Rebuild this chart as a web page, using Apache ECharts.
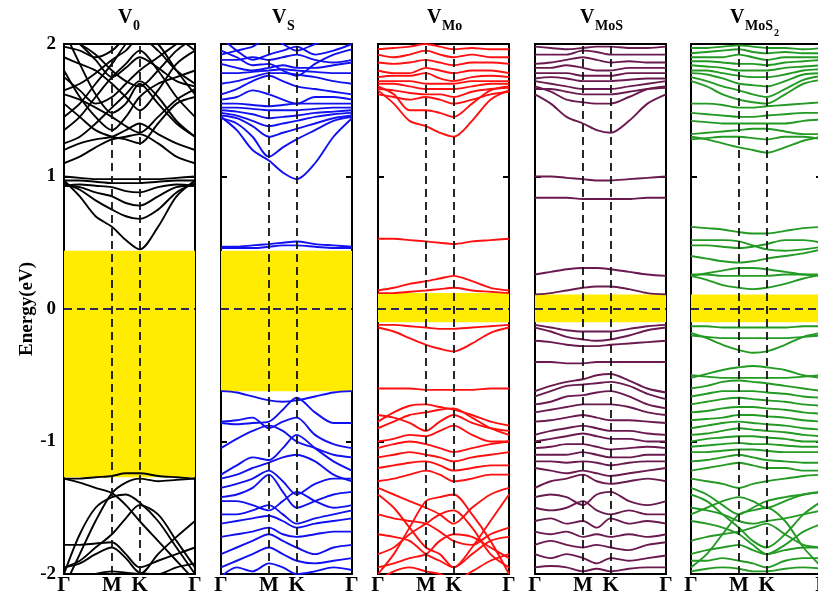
<!DOCTYPE html>
<html>
<head>
<meta charset="utf-8">
<script src="https://cdn.jsdelivr.net/npm/echarts@6/dist/echarts.min.js"></script>
<style>
  html, body { margin: 0; padding: 0; background: #fff; }
  #chart { width: 818px; height: 594px; }
</style>
</head>
<body>
<div id="chart"></div>
<script>
// k-path Γ–M–K–Γ (path length units), sampled positions for each band
const kPath = [0, 0.19, 0.38, 0.577, 0.744, 0.910, 1.132, 1.354, 1.577];
const kTickValues = [0, 0.577, 0.910, 1.577];
const kTickLabels = ['Γ', 'M', 'K', 'Γ'];
const energyTicks = [-2, -1, 0, 1, 2];

const panelNames = ['0', 'S', 'Mo', 'MoS', 'MoS2'];
const panelColors = ['#000000', '#1010f0', '#ff1010', '#6a1a4e', '#239a23'];

// band gap windows (eV) shaded in each panel
const gapLow  = [-1.27, -0.62, -0.10, -0.10, -0.10];
const gapHigh = [0.44, 0.44, 0.12, 0.11, 0.11];

// band energies (eV) at the kPath samples
const bandsV0 = [
  [-1.28, -1.28, -1.27, -1.26, -1.24, -1.24, -1.26, -1.27, -1.28],
  [-1.28, -1.31, -1.35, -1.39, -1.48, -1.60, -1.75, -1.90, -2.05],
  [-2.10, -1.85, -1.60, -1.39, -1.31, -1.28, -1.30, -1.29, -1.28],
  [-2.00, -1.70, -1.50, -1.42, -1.40, -1.46, -1.60, -1.80, -2.00],
  [-1.95, -1.90, -1.80, -1.70, -1.58, -1.48, -1.55, -1.75, -1.95],
  [-1.78, -1.78, -1.77, -1.76, -1.85, -1.95, -1.90, -1.85, -1.80],
  [-1.95, -1.92, -1.85, -1.80, -1.88, -1.99, -2.00, -1.95, -1.92],
  [-2.10, -2.05, -2.00, -1.98, -1.99, -2.00, -1.85, -1.72, -1.60],
  [0.97, 0.85, 0.70, 0.62, 0.52, 0.45, 0.62, 0.85, 0.97],
  [0.95, 0.90, 0.82, 0.75, 0.70, 0.68, 0.75, 0.88, 0.95],
  [0.93, 0.92, 0.88, 0.85, 0.80, 0.78, 0.85, 0.92, 0.93],
  [0.93, 0.94, 0.93, 0.92, 0.89, 0.88, 0.92, 0.94, 0.93],
  [0.97, 0.97, 0.96, 0.95, 0.95, 0.95, 0.96, 0.97, 0.97],
  [1.00, 0.99, 0.98, 0.98, 0.98, 0.98, 0.98, 0.99, 1.00],
  [1.10, 1.15, 1.22, 1.28, 1.30, 1.32, 1.25, 1.15, 1.10],
  [1.20, 1.25, 1.28, 1.30, 1.35, 1.40, 1.32, 1.25, 1.20],
  [1.55, 1.45, 1.35, 1.30, 1.28, 1.25, 1.40, 1.55, 1.60],
  [1.80, 1.60, 1.45, 1.35, 1.45, 1.60, 1.70, 1.75, 1.80],
  [2.10, 1.85, 1.62, 1.48, 1.55, 1.70, 1.55, 1.40, 1.30],
  [1.35, 1.45, 1.60, 1.75, 1.85, 1.95, 1.80, 1.60, 1.45],
  [1.65, 1.70, 1.78, 1.88, 1.95, 2.05, 1.95, 1.80, 1.70],
  [1.90, 1.85, 1.80, 1.70, 1.60, 1.50, 1.65, 1.85, 1.95],
  [1.45, 1.55, 1.70, 1.85, 2.00, 2.10, 2.00, 1.80, 1.62],
  [2.05, 2.00, 1.92, 1.80, 1.72, 1.68, 1.80, 1.95, 2.05],
  [1.75, 1.65, 1.55, 1.60, 1.70, 1.80, 1.90, 2.00, 2.10],
  [1.98, 1.95, 1.90, 1.95, 2.05, 2.10, 2.10, 2.05, 1.95],
  [1.25, 1.30, 1.40, 1.52, 1.62, 1.72, 1.60, 1.42, 1.30],
  [1.62, 1.58, 1.52, 1.45, 1.38, 1.33, 1.45, 1.58, 1.66],
  [2.10, 2.00, 1.88, 1.75, 1.82, 1.90, 1.82, 1.72, 1.68]
];

const bandsVS = [
  [0.47, 0.47, 0.48, 0.49, 0.50, 0.51, 0.49, 0.48, 0.47],
  [0.46, 0.46, 0.46, 0.47, 0.48, 0.48, 0.47, 0.46, 0.46],
  [-0.62, -0.63, -0.66, -0.69, -0.70, -0.69, -0.66, -0.63, -0.62],
  [-0.86, -0.87, -0.86, -0.85, -0.76, -0.67, -0.78, -0.86, -0.86],
  [-0.85, -0.84, -0.82, -0.90, -0.85, -0.82, -0.95, -1.02, -1.05],
  [-1.05, -0.98, -0.92, -0.88, -0.92, -1.00, -1.05, -1.10, -1.12],
  [-1.25, -1.18, -1.12, -1.14, -1.05, -0.95, -1.05, -1.15, -1.22],
  [-1.28, -1.25, -1.20, -1.16, -1.12, -1.10, -1.15, -1.25, -1.30],
  [-1.35, -1.32, -1.28, -1.22, -1.30, -1.40, -1.32, -1.28, -1.28],
  [-1.42, -1.40, -1.35, -1.25, -1.38, -1.50, -1.45, -1.40, -1.38],
  [-1.45, -1.45, -1.48, -1.52, -1.45, -1.38, -1.45, -1.50, -1.48],
  [-1.55, -1.55, -1.52, -1.48, -1.55, -1.62, -1.58, -1.55, -1.52],
  [-1.62, -1.60, -1.58, -1.56, -1.60, -1.65, -1.62, -1.60, -1.58],
  [-1.72, -1.70, -1.68, -1.65, -1.70, -1.72, -1.70, -1.68, -1.68],
  [-1.85, -1.80, -1.75, -1.70, -1.75, -1.80, -1.85, -1.80, -1.78],
  [-1.95, -1.90, -1.85, -1.80, -1.85, -1.90, -1.92, -1.90, -1.88],
  [-2.02, -1.95, -1.98, -1.92, -1.95, -2.00, -1.98, -1.95, -1.97],
  [1.45, 1.35, 1.20, 1.12, 1.03, 0.98, 1.10, 1.30, 1.44],
  [1.44, 1.40, 1.30, 1.15, 1.22, 1.28, 1.35, 1.42, 1.45],
  [1.46, 1.44, 1.38, 1.30, 1.33, 1.36, 1.40, 1.44, 1.46],
  [1.48, 1.46, 1.42, 1.38, 1.40, 1.42, 1.45, 1.47, 1.48],
  [1.50, 1.49, 1.47, 1.44, 1.45, 1.46, 1.48, 1.49, 1.50],
  [1.52, 1.52, 1.51, 1.50, 1.50, 1.50, 1.51, 1.52, 1.52],
  [1.55, 1.55, 1.54, 1.53, 1.54, 1.55, 1.55, 1.55, 1.55],
  [1.58, 1.60, 1.65, 1.62, 1.58, 1.55, 1.60, 1.60, 1.58],
  [1.62, 1.66, 1.72, 1.76, 1.72, 1.68, 1.66, 1.64, 1.62],
  [1.70, 1.72, 1.75, 1.78, 1.78, 1.77, 1.75, 1.72, 1.70],
  [1.78, 1.78, 1.79, 1.80, 1.81, 1.80, 1.79, 1.78, 1.78],
  [1.85, 1.82, 1.80, 1.82, 1.84, 1.82, 1.82, 1.84, 1.86],
  [1.95, 1.90, 1.84, 1.85, 1.80, 1.76, 1.85, 1.92, 1.96],
  [2.05, 1.95, 1.88, 1.92, 1.95, 1.98, 1.92, 1.95, 2.00],
  [1.92, 1.95, 1.98, 2.05, 2.00, 1.95, 2.00, 2.05, 2.10],
  [1.88, 1.88, 1.90, 1.88, 1.90, 1.92, 1.88, 1.86, 1.88]
];

const bandsVMo = [
  [0.53, 0.53, 0.52, 0.51, 0.50, 0.49, 0.51, 0.52, 0.53],
  [0.14, 0.16, 0.19, 0.21, 0.23, 0.25, 0.21, 0.16, 0.14],
  [0.12, 0.12, 0.13, 0.14, 0.15, 0.16, 0.14, 0.13, 0.12],
  [-0.12, -0.12, -0.13, -0.14, -0.15, -0.15, -0.14, -0.13, -0.12],
  [-0.14, -0.17, -0.22, -0.27, -0.30, -0.32, -0.26, -0.18, -0.14],
  [-0.60, -0.60, -0.60, -0.61, -0.61, -0.61, -0.61, -0.60, -0.60],
  [-0.85, -0.78, -0.73, -0.72, -0.74, -0.76, -0.80, -0.85, -0.88],
  [-0.90, -0.85, -0.80, -0.78, -0.76, -0.75, -0.82, -0.90, -0.95],
  [-0.80, -0.82, -0.86, -0.92, -0.85, -0.80, -0.86, -0.90, -0.92],
  [-1.00, -0.98, -0.95, -0.96, -0.92, -0.88, -0.95, -1.00, -1.00],
  [-1.05, -1.02, -1.00, -1.02, -1.05, -1.08, -1.05, -1.02, -1.00],
  [-1.12, -1.10, -1.08, -1.10, -1.12, -1.15, -1.12, -1.10, -1.08],
  [-1.20, -1.18, -1.16, -1.15, -1.18, -1.22, -1.20, -1.18, -1.18],
  [-1.30, -1.28, -1.25, -1.22, -1.25, -1.30, -1.28, -1.25, -1.25],
  [-1.40, -1.50, -1.65, -1.80, -1.85, -1.95, -1.80, -1.60, -1.40],
  [-1.35, -1.40, -1.45, -1.50, -1.55, -1.62, -1.50, -1.40, -1.35],
  [-2.00, -1.85, -1.65, -1.45, -1.42, -1.40, -1.55, -1.75, -2.00],
  [-1.55, -1.58, -1.60, -1.62, -1.68, -1.75, -1.78, -1.70, -1.65],
  [-1.85, -1.80, -1.70, -1.62, -1.55, -1.52, -1.65, -1.85, -1.95],
  [-1.70, -1.72, -1.75, -1.85, -1.90, -1.95, -1.85, -1.75, -1.72],
  [-1.95, -1.92, -1.88, -1.85, -1.75, -1.70, -1.72, -1.80, -1.88],
  [-2.05, -1.98, -1.95, -1.98, -2.00, -2.05, -1.98, -1.90, -1.85],
  [1.65, 1.55, 1.42, 1.38, 1.33, 1.30, 1.42, 1.58, 1.65],
  [1.68, 1.62, 1.50, 1.50, 1.48, 1.45, 1.55, 1.65, 1.68],
  [1.62, 1.60, 1.58, 1.60, 1.58, 1.55, 1.58, 1.62, 1.64],
  [1.66, 1.65, 1.63, 1.62, 1.62, 1.60, 1.64, 1.66, 1.67],
  [1.70, 1.70, 1.68, 1.66, 1.66, 1.66, 1.68, 1.70, 1.70],
  [1.72, 1.72, 1.72, 1.70, 1.70, 1.70, 1.72, 1.72, 1.72],
  [1.75, 1.76, 1.76, 1.78, 1.74, 1.72, 1.75, 1.76, 1.75],
  [1.80, 1.78, 1.78, 1.82, 1.80, 1.78, 1.80, 1.80, 1.78],
  [1.86, 1.85, 1.86, 1.88, 1.86, 1.84, 1.86, 1.86, 1.85],
  [1.92, 1.90, 1.92, 1.95, 1.92, 1.90, 1.92, 1.90, 1.90],
  [1.96, 1.97, 1.98, 2.00, 1.98, 1.96, 1.97, 1.96, 1.96]
];

const bandsVMoS = [
  [1.00, 1.00, 0.99, 0.98, 0.97, 0.97, 0.98, 0.99, 1.00],
  [0.84, 0.84, 0.84, 0.83, 0.83, 0.83, 0.83, 0.84, 0.84],
  [0.26, 0.28, 0.30, 0.31, 0.31, 0.30, 0.28, 0.26, 0.25],
  [0.11, 0.12, 0.14, 0.16, 0.17, 0.17, 0.15, 0.12, 0.11],
  [-0.12, -0.14, -0.16, -0.17, -0.17, -0.17, -0.15, -0.13, -0.12],
  [-0.14, -0.17, -0.21, -0.23, -0.24, -0.23, -0.20, -0.16, -0.14],
  [-0.24, -0.25, -0.27, -0.28, -0.28, -0.27, -0.26, -0.25, -0.24],
  [-0.40, -0.40, -0.41, -0.41, -0.40, -0.40, -0.40, -0.40, -0.40],
  [-0.62, -0.58, -0.55, -0.53, -0.50, -0.49, -0.54, -0.60, -0.63],
  [-0.66, -0.62, -0.58, -0.57, -0.56, -0.55, -0.58, -0.64, -0.68],
  [-0.72, -0.70, -0.66, -0.65, -0.63, -0.62, -0.66, -0.72, -0.75],
  [-0.78, -0.76, -0.74, -0.72, -0.72, -0.72, -0.74, -0.78, -0.80],
  [-0.85, -0.84, -0.82, -0.80, -0.82, -0.84, -0.84, -0.85, -0.86],
  [-0.95, -0.92, -0.90, -0.88, -0.90, -0.92, -0.92, -0.94, -0.95],
  [-1.00, -0.98, -0.96, -0.94, -0.96, -0.98, -0.98, -1.00, -1.00],
  [-1.05, -1.04, -1.02, -1.02, -1.04, -1.06, -1.05, -1.04, -1.05],
  [-1.10, -1.10, -1.10, -1.08, -1.10, -1.12, -1.12, -1.10, -1.10],
  [-1.15, -1.15, -1.16, -1.15, -1.16, -1.18, -1.16, -1.15, -1.15],
  [-1.20, -1.22, -1.24, -1.22, -1.24, -1.26, -1.24, -1.22, -1.20],
  [-1.35, -1.30, -1.28, -1.25, -1.30, -1.32, -1.30, -1.28, -1.30],
  [-1.42, -1.40, -1.42, -1.48, -1.40, -1.38, -1.45, -1.48, -1.45],
  [-1.50, -1.52, -1.50, -1.45, -1.52, -1.55, -1.52, -1.55, -1.55],
  [-1.60, -1.58, -1.62, -1.60, -1.65, -1.58, -1.62, -1.60, -1.62],
  [-1.68, -1.70, -1.68, -1.72, -1.70, -1.72, -1.70, -1.72, -1.70],
  [-1.78, -1.75, -1.78, -1.80, -1.78, -1.80, -1.82, -1.78, -1.76],
  [-1.85, -1.88, -1.85, -1.88, -1.92, -1.88, -1.90, -1.88, -1.86],
  [-1.95, -1.94, -1.95, -1.98, -1.96, -1.98, -1.96, -1.95, -1.95],
  [1.62, 1.55, 1.45, 1.40, 1.35, 1.33, 1.42, 1.55, 1.62],
  [1.68, 1.64, 1.58, 1.56, 1.55, 1.55, 1.60, 1.66, 1.68],
  [1.66, 1.66, 1.64, 1.62, 1.62, 1.62, 1.64, 1.66, 1.67],
  [1.72, 1.70, 1.68, 1.66, 1.66, 1.66, 1.68, 1.70, 1.72],
  [1.74, 1.75, 1.74, 1.72, 1.72, 1.72, 1.73, 1.74, 1.74],
  [1.78, 1.78, 1.78, 1.76, 1.76, 1.76, 1.78, 1.78, 1.78],
  [1.82, 1.82, 1.84, 1.82, 1.80, 1.80, 1.82, 1.82, 1.82],
  [1.85, 1.86, 1.88, 1.90, 1.88, 1.86, 1.87, 1.86, 1.86],
  [1.92, 1.92, 1.92, 1.95, 1.94, 1.92, 1.92, 1.92, 1.92],
  [1.98, 1.97, 1.96, 1.97, 1.98, 1.98, 1.97, 1.97, 1.98]
];

const bandsVMoS2 = [
  [0.62, 0.61, 0.60, 0.58, 0.57, 0.57, 0.59, 0.61, 0.62],
  [0.48, 0.48, 0.47, 0.46, 0.47, 0.49, 0.52, 0.52, 0.50],
  [0.52, 0.52, 0.52, 0.51, 0.48, 0.45, 0.44, 0.45, 0.47],
  [0.40, 0.38, 0.36, 0.35, 0.36, 0.38, 0.40, 0.42, 0.45],
  [0.25, 0.27, 0.29, 0.31, 0.31, 0.30, 0.28, 0.26, 0.25],
  [0.26, 0.26, 0.25, 0.25, 0.25, 0.25, 0.26, 0.26, 0.26],
  [0.25, 0.22, 0.18, 0.16, 0.15, 0.16, 0.19, 0.23, 0.26],
  [-0.13, -0.13, -0.14, -0.14, -0.14, -0.14, -0.14, -0.13, -0.13],
  [-0.18, -0.22, -0.27, -0.31, -0.33, -0.32, -0.27, -0.21, -0.18],
  [-0.20, -0.21, -0.22, -0.22, -0.22, -0.22, -0.22, -0.21, -0.20],
  [-0.52, -0.49, -0.46, -0.44, -0.43, -0.44, -0.46, -0.50, -0.52],
  [-0.50, -0.51, -0.52, -0.52, -0.52, -0.52, -0.52, -0.51, -0.50],
  [-0.60, -0.58, -0.55, -0.54, -0.55, -0.56, -0.58, -0.60, -0.62],
  [-0.66, -0.64, -0.62, -0.62, -0.62, -0.63, -0.64, -0.66, -0.67],
  [-0.72, -0.70, -0.68, -0.67, -0.68, -0.69, -0.70, -0.72, -0.73],
  [-0.78, -0.77, -0.75, -0.74, -0.74, -0.75, -0.76, -0.78, -0.79],
  [-0.84, -0.83, -0.82, -0.80, -0.80, -0.81, -0.82, -0.84, -0.85],
  [-0.90, -0.88, -0.86, -0.85, -0.86, -0.87, -0.88, -0.90, -0.91],
  [-0.95, -0.94, -0.92, -0.90, -0.91, -0.92, -0.93, -0.95, -0.96],
  [-1.00, -0.98, -0.97, -0.96, -0.96, -0.97, -0.98, -1.00, -1.00],
  [-1.04, -1.03, -1.02, -1.01, -1.02, -1.02, -1.03, -1.04, -1.04],
  [-1.08, -1.08, -1.07, -1.06, -1.06, -1.07, -1.08, -1.08, -1.08],
  [-1.15, -1.14, -1.12, -1.10, -1.12, -1.14, -1.15, -1.16, -1.16],
  [-1.22, -1.20, -1.18, -1.16, -1.18, -1.20, -1.20, -1.22, -1.22],
  [-1.28, -1.30, -1.32, -1.35, -1.32, -1.30, -1.28, -1.26, -1.25],
  [-1.35, -1.40, -1.48, -1.55, -1.50, -1.45, -1.42, -1.40, -1.38],
  [-1.40, -1.45, -1.55, -1.65, -1.75, -1.80, -1.70, -1.55, -1.45],
  [-1.95, -1.85, -1.70, -1.55, -1.52, -1.50, -1.60, -1.80, -1.95],
  [-1.50, -1.52, -1.55, -1.60, -1.62, -1.60, -1.58, -1.55, -1.52],
  [-1.60, -1.62, -1.65, -1.70, -1.78, -1.85, -1.78, -1.68, -1.62],
  [-1.75, -1.72, -1.70, -1.68, -1.65, -1.62, -1.70, -1.78, -1.80],
  [-1.85, -1.82, -1.80, -1.78, -1.82, -1.85, -1.82, -1.80, -1.80],
  [-1.90, -1.90, -1.88, -1.90, -1.92, -1.95, -1.90, -1.88, -1.88],
  [-1.98, -1.96, -1.95, -1.96, -1.98, -1.98, -1.96, -1.95, -1.96],
  [-1.55, -1.50, -1.45, -1.42, -1.45, -1.50, -1.45, -1.40, -1.38],
  [1.30, 1.28, 1.25, 1.22, 1.20, 1.18, 1.22, 1.27, 1.30],
  [1.28, 1.29, 1.30, 1.30, 1.29, 1.28, 1.30, 1.30, 1.28],
  [1.32, 1.33, 1.34, 1.35, 1.36, 1.36, 1.34, 1.32, 1.32],
  [1.42, 1.41, 1.40, 1.40, 1.40, 1.40, 1.40, 1.42, 1.43],
  [1.48, 1.47, 1.46, 1.45, 1.45, 1.46, 1.47, 1.48, 1.48],
  [1.55, 1.55, 1.54, 1.52, 1.52, 1.53, 1.54, 1.55, 1.56],
  [1.72, 1.68, 1.62, 1.58, 1.56, 1.55, 1.62, 1.70, 1.73],
  [1.75, 1.72, 1.68, 1.65, 1.62, 1.60, 1.66, 1.73, 1.76],
  [1.78, 1.77, 1.74, 1.70, 1.69, 1.68, 1.72, 1.77, 1.78],
  [1.80, 1.80, 1.78, 1.76, 1.75, 1.75, 1.77, 1.80, 1.81],
  [1.84, 1.83, 1.82, 1.80, 1.80, 1.80, 1.82, 1.83, 1.84],
  [1.87, 1.87, 1.86, 1.85, 1.85, 1.84, 1.86, 1.87, 1.88],
  [1.90, 1.90, 1.90, 1.92, 1.90, 1.88, 1.90, 1.90, 1.90],
  [1.93, 1.94, 1.95, 1.96, 1.94, 1.93, 1.94, 1.93, 1.93],
  [1.97, 1.97, 1.98, 1.99, 1.98, 1.97, 1.97, 1.96, 1.97]
];

const panelBands = [bandsV0, bandsVS, bandsVMo, bandsVMoS, bandsVMoS2];

// layout of the five panels (the last one runs past the right edge)
const panelLeft = [64, 221, 378, 535, 691];
const panelWidth = 131;
const panelTop = 44;
const panelHeight = 530;

const serif = '"Liberation Serif", "Times New Roman", serif';
const kMax = kTickValues[kTickValues.length - 1];

const grids = [], xAxes = [], yAxes = [], series = [];

panelBands.forEach((bands, p) => {
  grids.push({
    left: panelLeft[p], top: panelTop, width: panelWidth, height: panelHeight,
    outerBoundsMode: 'none', containLabel: false,
    show: true, borderColor: '#000', borderWidth: 2, backgroundColor: 'transparent'
  });
  xAxes.push({
    gridIndex: p, type: 'value', min: 0, max: kMax,
    axisLine: { show: false }, splitLine: { show: false }, axisTick: { show: false },
    axisLabel: {
      customValues: kTickValues, showMinLabel: true, showMaxLabel: true,
      hideOverlap: false,
      margin: 1, color: '#000', fontFamily: serif, fontWeight: 'bold', fontSize: 21,
      formatter: v => kTickLabels[kTickValues.indexOf(v)] || ''
    }
  });
  const yCommon = {
    gridIndex: p, type: 'value', min: -2, max: 2, interval: 1,
    axisLine: { show: false }, splitLine: { show: false },
    axisTick: { show: true, inside: true, length: 6, lineStyle: { color: '#000', width: 2 } }
  };
  yAxes.push(Object.assign({}, yCommon, {
    position: 'left',
    axisLabel: {
      show: p === 0, margin: 8, color: '#000', fontFamily: serif, fontWeight: 'bold', fontSize: 19,
      formatter: v => String(v)
    },
    name: p === 0 ? 'Energy(eV)' : '',
    nameLocation: 'middle', nameRotate: 90, nameGap: 23,
    nameTextStyle: { color: '#000', fontFamily: serif, fontWeight: 'bold', fontSize: 19 }
  }));
  yAxes.push(Object.assign({}, yCommon, { position: 'right', axisLabel: { show: false } }));

  // shaded gap window
  series.push({
    type: 'line', xAxisIndex: p, yAxisIndex: 2 * p, data: [], z: 1, silent: true,
    markArea: {
      silent: true, itemStyle: { color: '#ffec00' },
      data: [[{ xAxis: 0, yAxis: gapLow[p] }, { xAxis: kMax, yAxis: gapHigh[p] }]]
    }
  });
  // high-symmetry points and Fermi level
  series.push({
    type: 'line', xAxisIndex: p, yAxisIndex: 2 * p, data: [], z: 2, silent: true,
    markLine: {
      silent: true, symbol: ['none', 'none'], label: { show: false },
      animation: false,
      data: [
        { xAxis: kTickValues[1], lineStyle: { color: '#111', width: 1.8, type: [8, 5] } },
        { xAxis: kTickValues[2], lineStyle: { color: '#111', width: 1.8, type: [8, 5] } },
        { yAxis: 0, lineStyle: { color: '#2a2a55', width: 1.8, type: [8, 5] } }
      ]
    }
  });
  bands.forEach(b => {
    series.push({
      type: 'line', xAxisIndex: p, yAxisIndex: 2 * p, z: 3, silent: true,
      showSymbol: false, smooth: 0.3, animation: false,
      data: kPath.map((k, i) => [k, b[i]]),
      lineStyle: { color: panelColors[p], width: 1.9 }
    });
  });
});

// panel titles: V with defect subscript
const titleSpecs = [
  { v: 118, sub: '0', s: 133 },
  { v: 272, sub: 'S', s: 287 },
  { v: 427, sub: 'Mo', s: 442 },
  { v: 580, sub: 'MoS', s: 595 },
  { v: 730, sub: 'MoS', s: 745, sub2: '2' }
];
const graphics = [];
titleSpecs.forEach(t => {
  graphics.push({ type: 'text', left: t.v, top: 8,
    style: { text: 'V', font: 'bold 20px ' + serif, fill: '#000' } });
  graphics.push({ type: 'text', left: t.s, top: 19,
    style: { text: t.sub, font: 'bold 14px ' + serif, fill: '#000' } });
  if (t.sub2) {
    graphics.push({ type: 'text', left: t.s + 29, top: 28,
      style: { text: t.sub2, font: 'bold 10px ' + serif, fill: '#000' } });
  }
});

const chart = echarts.init(document.getElementById('chart'), null, { renderer: 'canvas' });
chart.setOption({
  animation: false,
  backgroundColor: '#fff',
  grid: grids, xAxis: xAxes, yAxis: yAxes, series: series,
  graphic: graphics
});
</script>
</body>
</html>
